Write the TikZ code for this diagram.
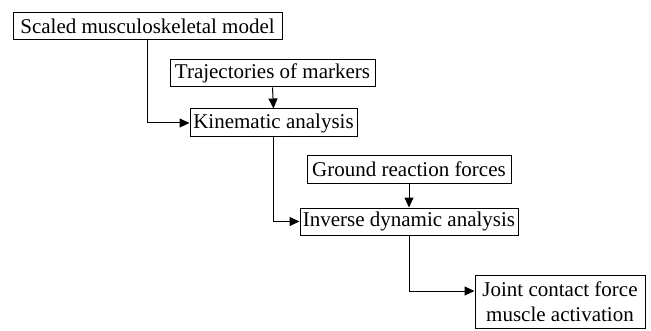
\documentclass[tikz,border=0pt]{standalone}
\usepackage{fontspec}
\setmainfont{Liberation Serif}
\usetikzlibrary{arrows.meta}
\begin{document}
\begin{tikzpicture}[x=1pt,y=1pt,
  box/.style={draw, line width=1pt, inner sep=0pt, font=\fontsize{21}{25}\selectfont, align=center},
  conn/.style={line width=1pt, -{Triangle[length=10pt,width=9pt]}}]
\useasboundingbox (0,0) rectangle (651,330);
\node[box, minimum width=269, minimum height=27] (b1) at (147.5,303.5) {Scaled musculoskeletal model};
\node[box, minimum width=205, minimum height=27] (b2) at (272.5,256.5) {Trajectories of markers};
\node[box, minimum width=167, minimum height=28] (b3) at (273.5,207) {Kinematic analysis};
\node[box, minimum width=204, minimum height=28] (b4) at (409,161) {Ground reaction forces};
\node[box, minimum width=218, minimum height=27] (b5) at (409,108.5) {Inverse dynamic analysis};
\node[box, minimum width=170, minimum height=53] (b6) at (560,28.5) {Joint contact force\\muscle activation};
\coordinate (b6in) at ([yshift=10.5pt]b6.west);
\draw[conn] (b1.south) |- (b3.west);
\draw[conn] (b2.south) -- (b3.north);
\draw[conn] (b3.south) |- (b5.west);
\draw[conn] (b4.south) -- (b5.north);
\draw[conn] (b5.south) |- (b6in);
\end{tikzpicture}
\end{document}
